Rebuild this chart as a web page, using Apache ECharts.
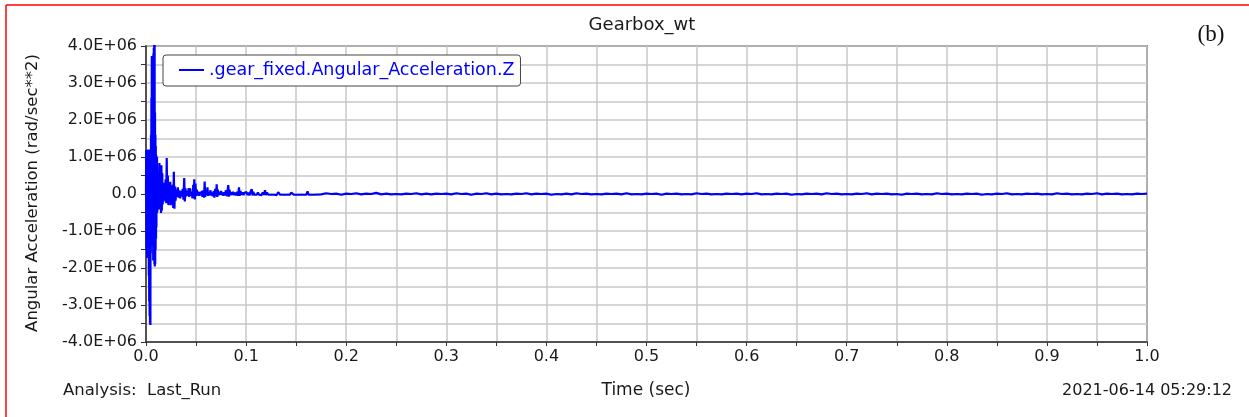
<!DOCTYPE html>
<html>
<head>
<meta charset="utf-8">
<title>Gearbox_wt</title>
<script src="https://cdn.jsdelivr.net/npm/echarts@6/dist/echarts.min.js"></script>
<style>
  html, body { margin: 0; padding: 0; background: #ffffff; }
  #chart { width: 1249px; height: 417px; }
</style>
</head>
<body>
<div id="chart"></div>
<script>
// Angular acceleration of .gear_fixed about Z, in units of 1E+06 rad/sec**2.
// Each entry is [time (sec), acceleration].

// Impact burst right after start-up
const impactBurst = [
  [0.0000, 0.00], [0.0002, 1.19], [0.0004, -1.51], [0.0006, 1.10], [0.0008, -1.40],
  [0.0010, 0.95], [0.0012, -1.73], [0.0014, 1.05], [0.0016, -1.65], [0.0018, 0.90],
  [0.0020, -1.20], [0.0022, 1.20], [0.0024, -0.80], [0.0026, 0.70], [0.0028, -2.20],
  [0.0030, 1.10], [0.0032, -2.90], [0.0034, 0.90], [0.0036, -3.30], [0.0038, 1.15],
  [0.0040, -3.50], [0.0042, 1.20], [0.0044, -3.54], [0.0046, 0.90], [0.0048, -1.60],
  [0.0050, 1.60], [0.0052, -1.00], [0.0054, 2.60], [0.0056, -1.20], [0.0058, 3.73],
  [0.0060, -0.70], [0.0062, 3.60], [0.0064, -0.90], [0.0066, 2.90], [0.0068, -1.40],
  [0.0070, 3.50], [0.0072, -1.80], [0.0074, 3.80], [0.0076, -1.50], [0.0078, 3.95],
  [0.0080, -1.20], [0.0082, 4.20], [0.0084, -1.90], [0.0086, 4.10], [0.0088, -1.96],
  [0.0090, 2.20], [0.0092, -1.90], [0.0094, 1.60], [0.0096, -1.50], [0.0098, 1.30],
  [0.0100, -1.20], [0.0102, 1.05], [0.0104, -0.90], [0.0106, 0.80], [0.0108, -0.45],
  [0.0110, 1.00], [0.0112, -0.50]
];

// Decaying ring-down of the mesh impacts
const ringDown = [
  [0.0115, -0.35], [0.0122, 0.55], [0.0128, -0.42], [0.0134, 0.84], [0.0140, -0.30],
  [0.0146, 0.45], [0.0150, -0.51], [0.0154, 0.78], [0.0158, -0.45], [0.0162, 0.57],
  [0.0167, -0.28], [0.0172, 0.30], [0.0177, -0.20], [0.0182, 0.25], [0.0188, -0.15],
  [0.0196, 0.40], [0.0202, -0.25], [0.0207, 0.97], [0.0212, -0.22], [0.0218, 0.50],
  [0.0224, -0.30], [0.0230, 0.20], [0.0236, -0.12], [0.0242, 0.33], [0.0248, -0.30],
  [0.0254, 0.15], [0.0260, -0.10], [0.0266, 0.25], [0.0272, -0.38], [0.0278, 0.60],
  [0.0284, -0.40], [0.0290, 0.20], [0.0296, -0.18], [0.0302, 0.12], [0.0310, -0.08],
  [0.0318, 0.18], [0.0326, -0.10], [0.0334, 0.10], [0.0342, -0.12], [0.0350, 0.08],
  [0.0358, -0.06], [0.0366, 0.14], [0.0374, -0.15], [0.0382, 0.43], [0.0388, -0.20],
  [0.0394, 0.15], [0.0402, -0.06], [0.0410, 0.08], [0.0418, -0.04], [0.0426, 0.16],
  [0.0432, -0.08], [0.0440, 0.15], [0.0448, -0.05], [0.0456, 0.06], [0.0464, -0.12],
  [0.0472, 0.25], [0.0478, -0.10], [0.0482, 0.40], [0.0488, -0.15], [0.0494, 0.28],
  [0.0500, -0.06], [0.0508, 0.12], [0.0516, -0.04], [0.0524, 0.06], [0.0532, -0.05],
  [0.0540, 0.05], [0.0548, -0.03], [0.0556, 0.08], [0.0564, -0.08], [0.0572, 0.10],
  [0.0580, -0.10], [0.0586, 0.34], [0.0592, -0.08], [0.0598, 0.10], [0.0606, -0.03],
  [0.0614, 0.18], [0.0620, -0.05], [0.0628, 0.05], [0.0636, -0.03], [0.0644, 0.10],
  [0.0652, -0.04], [0.0660, 0.04], [0.0668, -0.06], [0.0676, 0.08], [0.0684, -0.10],
  [0.0692, 0.14], [0.0700, -0.05], [0.0706, 0.26], [0.0712, -0.08], [0.0718, 0.12],
  [0.0726, -0.03], [0.0734, 0.05], [0.0742, -0.02], [0.0750, 0.08], [0.0758, -0.03],
  [0.0766, 0.04], [0.0774, -0.05], [0.0782, 0.05], [0.0790, -0.03], [0.0798, 0.10],
  [0.0806, -0.06], [0.0814, 0.08], [0.0822, 0.24], [0.0828, -0.07], [0.0834, 0.12],
  [0.0842, -0.03], [0.0850, 0.05], [0.0860, -0.02], [0.0870, 0.06], [0.0880, -0.03],
  [0.0890, 0.04], [0.0900, -0.04], [0.0910, 0.06], [0.0920, -0.05], [0.0929, 0.18],
  [0.0936, -0.05], [0.0944, 0.08], [0.0954, -0.02], [0.0964, 0.04], [0.0974, -0.03],
  [0.0984, 0.03], [0.0994, -0.02], [0.1004, 0.05], [0.1014, -0.03], [0.1024, 0.04],
  [0.1034, -0.04], [0.1044, 0.06], [0.1056, 0.13], [0.1064, -0.04], [0.1072, 0.06],
  [0.1082, -0.02], [0.1094, 0.03], [0.1106, -0.02], [0.1118, 0.04], [0.1130, -0.02],
  [0.1142, 0.03], [0.1154, -0.03], [0.1166, 0.04], [0.1178, -0.02], [0.1189, 0.10],
  [0.1198, -0.03], [0.1208, 0.04], [0.1222, -0.02], [0.1236, 0.03], [0.1250, -0.02],
  [0.1264, 0.03], [0.1278, -0.02], [0.1292, 0.02], [0.1306, -0.03], [0.1320, 0.05],
  [0.1330, 0.06], [0.1340, -0.02], [0.1356, 0.03], [0.1372, -0.02], [0.1388, 0.02],
  [0.1404, -0.02], [0.1420, 0.03], [0.1436, -0.02], [0.1452, 0.04], [0.1466, 0.08],
  [0.1476, -0.02], [0.1490, 0.03], [0.1506, -0.02], [0.1522, 0.02], [0.1538, -0.02],
  [0.1554, 0.03], [0.1570, -0.02], [0.1586, 0.03], [0.1602, -0.02], [0.1614, 0.07],
  [0.1624, -0.02], [0.1640, 0.02], [0.1656, -0.02], [0.1672, 0.03], [0.1690, -0.02]
];

// Low-level steady running noise
const steadyTail = [
  [0.170, 0.01], [0.175, -0.01], [0.180, 0.02], [0.185, 0.00], [0.190, 0.01],
  [0.195, -0.02], [0.200, 0.01], [0.205, 0.00], [0.210, 0.02], [0.215, -0.01],
  [0.220, 0.01], [0.225, 0.00], [0.230, 0.03], [0.235, -0.01], [0.240, 0.01],
  [0.245, -0.01], [0.250, 0.00], [0.255, -0.01], [0.260, 0.01], [0.265, 0.00],
  [0.270, 0.02], [0.275, -0.01], [0.280, 0.01], [0.285, -0.01], [0.290, 0.01],
  [0.295, 0.00], [0.300, 0.01], [0.305, -0.01], [0.310, 0.02], [0.315, 0.00],
  [0.320, 0.01], [0.325, -0.02], [0.330, 0.01], [0.335, 0.00], [0.340, 0.02],
  [0.345, -0.01], [0.350, 0.01], [0.355, -0.01], [0.360, 0.00], [0.365, -0.01],
  [0.370, 0.01], [0.375, 0.00], [0.380, 0.02], [0.385, -0.01], [0.390, 0.01],
  [0.395, 0.00], [0.400, 0.01], [0.405, -0.02], [0.410, 0.00], [0.415, -0.01],
  [0.420, 0.01], [0.425, -0.01], [0.430, 0.02], [0.435, 0.00], [0.440, 0.01],
  [0.445, -0.01], [0.450, 0.00], [0.455, -0.01], [0.460, 0.01], [0.465, 0.00],
  [0.470, 0.01], [0.475, -0.01], [0.480, 0.02], [0.485, -0.01], [0.490, 0.00],
  [0.495, -0.01], [0.500, 0.01], [0.505, 0.00], [0.510, 0.01], [0.515, -0.02],
  [0.520, 0.01], [0.525, 0.00], [0.530, 0.01], [0.535, -0.01], [0.540, 0.00],
  [0.545, -0.01], [0.550, 0.02], [0.555, 0.00], [0.560, 0.01], [0.565, -0.01],
  [0.570, 0.00], [0.575, -0.01], [0.580, 0.01], [0.585, 0.00], [0.590, 0.01],
  [0.595, -0.01], [0.600, 0.01], [0.605, 0.00], [0.610, 0.02], [0.615, -0.01],
  [0.620, 0.00], [0.625, -0.01], [0.630, 0.01], [0.635, 0.00], [0.640, 0.01],
  [0.645, -0.02], [0.650, 0.00], [0.655, -0.01], [0.660, 0.01], [0.665, 0.00],
  [0.670, 0.01], [0.675, -0.01], [0.680, 0.02], [0.685, 0.00], [0.690, 0.01],
  [0.695, -0.01], [0.700, 0.00], [0.705, -0.01], [0.710, 0.01], [0.715, 0.00],
  [0.720, 0.02], [0.725, -0.01], [0.730, 0.01], [0.735, 0.00], [0.740, 0.01],
  [0.745, -0.01], [0.750, 0.00], [0.755, -0.02], [0.760, 0.01], [0.765, 0.00],
  [0.770, 0.01], [0.775, -0.01], [0.780, 0.00], [0.785, -0.01], [0.790, 0.02],
  [0.795, 0.00], [0.800, 0.01], [0.805, -0.01], [0.810, 0.00], [0.815, -0.01],
  [0.820, 0.01], [0.825, 0.00], [0.830, 0.01], [0.835, -0.02], [0.840, 0.00],
  [0.845, -0.01], [0.850, 0.01], [0.855, 0.00], [0.860, 0.02], [0.865, -0.01],
  [0.870, 0.00], [0.875, -0.01], [0.880, 0.01], [0.885, 0.00], [0.890, 0.01],
  [0.895, -0.01], [0.900, 0.00], [0.905, -0.01], [0.910, 0.02], [0.915, 0.00],
  [0.920, 0.01], [0.925, -0.01], [0.930, 0.00], [0.935, -0.01], [0.940, 0.01],
  [0.945, 0.00], [0.950, 0.02], [0.955, -0.01], [0.960, 0.01], [0.965, 0.00],
  [0.970, 0.01], [0.975, -0.01], [0.980, 0.00], [0.985, -0.01], [0.990, 0.01],
  [0.995, 0.00], [1.000, 0.01]
];

// Axis tick label values
const xTickLabels = [0.0, 0.1, 0.2, 0.3, 0.4, 0.5, 0.6, 0.7, 0.8, 0.9, 1.0];
const yTickLabels = [-4, -3, -2, -1, 0, 1, 2, 3, 4];

const seriesName = '.gear_fixed.Angular_Acceleration.Z';
const FONT = '"DejaVu Sans", "Liberation Sans", Arial, sans-serif';
const TEXT = '#1a1a1a';
const FRAME = '#333333';
const GRID = '#c8c8c8';

const chart = echarts.init(document.getElementById('chart'), null, { renderer: 'canvas' });

chart.setOption({
  animation: false,
  backgroundColor: '#ffffff',
  textStyle: { fontFamily: FONT },
  grid: {
    left: 146, right: 102, top: 46, bottom: 75,
    show: true, borderColor: FRAME, borderWidth: 1.5, backgroundColor: '#ffffff'
  },
  legend: {
    left: 163, top: 55,
    data: [seriesName],
    icon: 'rect', itemWidth: 25, itemHeight: 2,
    padding: [5, 6, 6, 16],
    backgroundColor: '#ffffff', borderColor: '#444444', borderWidth: 1, borderRadius: 3,
    textStyle: { color: '#0000ff', fontSize: 17.5, fontFamily: FONT, lineHeight: 20 }
  },
  xAxis: {
    type: 'value',
    min: xTickLabels[0], max: xTickLabels[xTickLabels.length - 1], interval: 0.1,
    axisLine: { show: true, onZero: false, lineStyle: { color: FRAME, width: 1.5 } },
    axisTick: { show: true, inside: false, length: 4, lineStyle: { color: FRAME, width: 1 } },
    minorTick: { show: true, splitNumber: 2, length: 4, lineStyle: { color: FRAME, width: 1 } },
    splitLine: { show: true, lineStyle: { color: GRID, width: 1.5 } },
    minorSplitLine: { show: true, lineStyle: { color: GRID, width: 1.5 } },
    axisLabel: {
      color: TEXT, fontSize: 16, fontFamily: FONT, margin: 7,
      formatter: v => v.toFixed(1)
    }
  },
  yAxis: {
    type: 'value',
    min: yTickLabels[0], max: yTickLabels[yTickLabels.length - 1], interval: 1,
    axisLine: { show: true, onZero: false, lineStyle: { color: FRAME, width: 1.5 } },
    axisTick: { show: true, inside: false, length: 5, lineStyle: { color: FRAME, width: 1 } },
    minorTick: { show: true, splitNumber: 2, length: 5, lineStyle: { color: FRAME, width: 1 } },
    splitLine: { show: true, lineStyle: { color: GRID, width: 1.5 } },
    minorSplitLine: { show: true, lineStyle: { color: GRID, width: 1.5 } },
    axisLabel: {
      color: TEXT, fontSize: 16, fontFamily: FONT, margin: 9,
      formatter: v => (Math.abs(v) < 1e-9 ? '0.0' : v.toFixed(1) + 'E+06')
    }
  },
  series: [{
    name: seriesName,
    type: 'line',
    data: impactBurst.concat(ringDown, steadyTail),
    showSymbol: false,
    symbol: 'none',
    clip: true,
    color: '#0000ff',
    lineStyle: { color: '#0000ff', width: 2.2 }
  }],
  graphic: [
    // red frame edges
    { type: 'line', shape: { x1: 6, y1: 5, x2: 1249, y2: 5 }, style: { stroke: '#ff0000', lineWidth: 1.5 } },
    { type: 'line', shape: { x1: 6, y1: 5, x2: 6, y2: 417 }, style: { stroke: '#ff0000', lineWidth: 1.5 } },
    { type: 'text', x: 642, y: 25, style: { text: 'Gearbox_wt', fill: TEXT, font: '18px ' + FONT, textAlign: 'center', textVerticalAlign: 'middle' } },
    { type: 'text', x: 1211, y: 35, style: { text: '(b)', fill: '#111111', font: '23px "Liberation Serif", "Times New Roman", serif', textAlign: 'center', textVerticalAlign: 'middle' } },
    { type: 'text', x: 33, y: 193, rotation: Math.PI / 2, style: { text: 'Angular Acceleration (rad/sec**2)', fill: TEXT, font: '16.5px ' + FONT, textAlign: 'center', textVerticalAlign: 'middle' } },
    { type: 'text', x: 646, y: 391, style: { text: 'Time (sec)', fill: TEXT, font: '17px ' + FONT, textAlign: 'center', textVerticalAlign: 'middle' } },
    { type: 'text', x: 63, y: 391, style: { text: 'Analysis:  Last_Run', fill: TEXT, font: '16.5px ' + FONT, textAlign: 'left', textVerticalAlign: 'middle' } },
    { type: 'text', x: 1232, y: 391, style: { text: '2021-06-14 05:29:12', fill: TEXT, font: '16px ' + FONT, textAlign: 'right', textVerticalAlign: 'middle' } }
  ]
});
</script>
</body>
</html>
